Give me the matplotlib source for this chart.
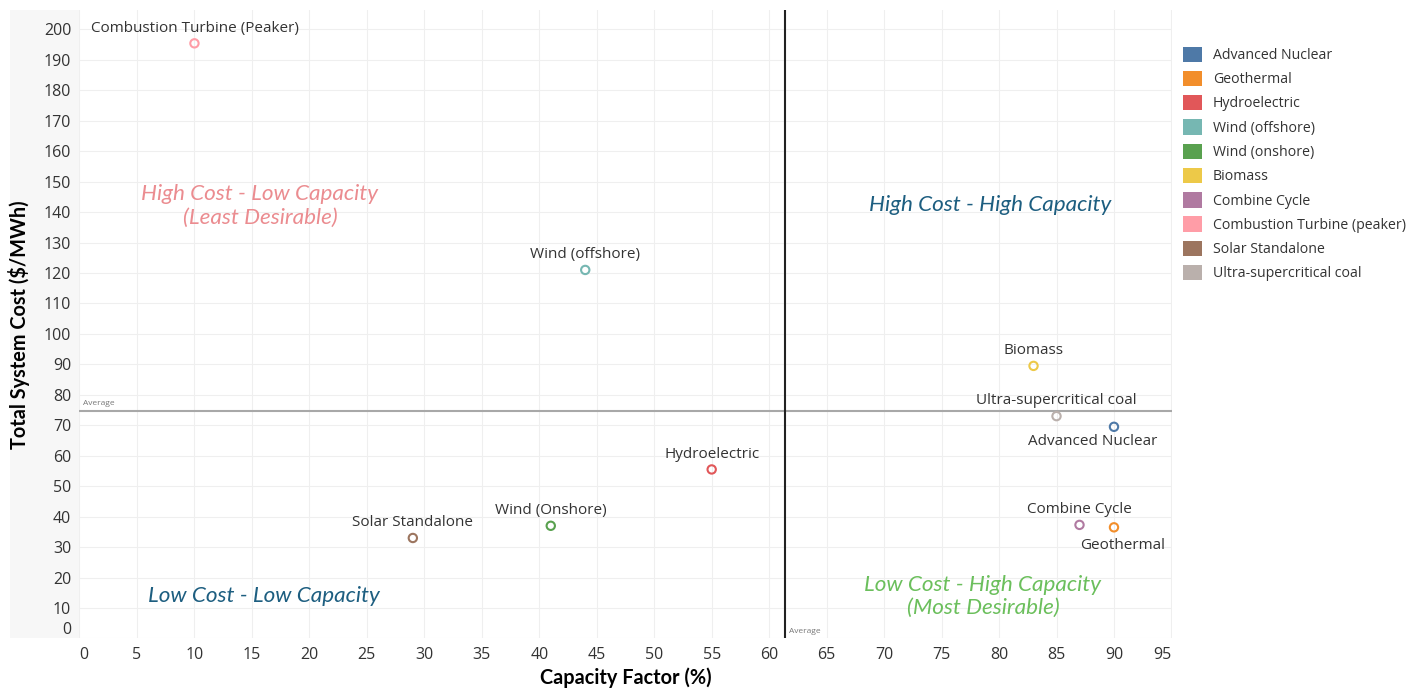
import matplotlib.pyplot as plt
from matplotlib.patches import Patch, Rectangle
import numpy as np

plt.rcParams['font.family'] = ['Open Sans', 'DejaVu Sans']

# technology data: capacity factor (%) and total system cost ($/MWh)
techs = ['Advanced Nuclear', 'Geothermal', 'Hydroelectric', 'Wind (offshore)',
         'Wind (onshore)', 'Biomass', 'Combine Cycle',
         'Combustion Turbine (peaker)', 'Solar Standalone', 'Ultra-supercritical coal']
point_labels = ['Advanced Nuclear', 'Geothermal', 'Hydroelectric', 'Wind (offshore)',
                'Wind (Onshore)', 'Biomass', 'Combine Cycle',
                'Combustion Turbine (Peaker)', 'Solar Standalone', 'Ultra-supercritical coal']
capacity = [90, 90, 55, 44, 41, 83, 87, 10, 29, 85]
cost = [69.5, 36.5, 55.5, 121, 37, 89.5, 37.3, 195.4, 33, 73]
colors = ['#4E79A7', '#F28E2B', '#E15759', '#76B7B2', '#59A14F',
          '#EDC948', '#B07AA1', '#FF9DA7', '#9C755F', '#BAB0AC']

x_ticks = np.arange(0, 96, 5)
y_ticks = np.arange(0, 201, 10)

fig = plt.figure(figsize=(14.07, 6.89), dpi=100)
ax = fig.add_axes([0.0565, 0.0733, 0.7765, 0.912])

# light panel behind the y tick labels
fig.patches.append(Rectangle((10 / 1407, 0.0733), 70 / 1407, 0.912,
                             transform=fig.transFigure, facecolor='#F7F7F7',
                             edgecolor='none', zorder=-1))

ax.set_xlim(0, 95.05)
ax.set_ylim(0, 206.3)
ax.set_xticks(x_ticks)
ax.set_yticks(y_ticks)
ax.set_xticklabels([str(v) for v in x_ticks])
ax.set_yticklabels([str(v) for v in y_ticks])
ax.tick_params(length=0, labelsize=11.5, labelcolor='#333333')
ax.tick_params(axis='x', pad=6)
ax.tick_params(axis='y', pad=6)
# keep edge labels inside the axis span
ax.get_yticklabels()[0].set_va('bottom')
ax.get_xticklabels()[0].set_ha('left')
ax.get_xticklabels()[-1].set_ha('right')
for s in ax.spines.values():
    s.set_visible(False)
ax.grid(True, color='#EFEFEF', linewidth=0.8)
ax.set_axisbelow(True)

ax.set_xlabel('Capacity Factor (%)', fontsize=14.3, fontweight='bold',
              family=['Lato', 'DejaVu Sans'], labelpad=3)
ax.set_ylabel('Total System Cost ($/MWh)', fontsize=14.3, fontweight='bold',
              family=['Lato', 'DejaVu Sans'], labelpad=10)

# average reference lines
avg_x = np.mean(capacity)
avg_y = np.mean(cost)
ax.axhline(avg_y, color='#A8A8A8', linewidth=1.5, zorder=2)
ax.axvline(avg_x, color='#222222', linewidth=1.5, zorder=2)
ax.text(0.3, avg_y + 1.2, 'Average', fontsize=6, color='#777777', va='bottom')
ax.text(avg_x + 0.3, 1.0, 'Average', fontsize=6, color='#777777', va='bottom')

ax.scatter(capacity, cost, s=36, facecolors='none', edgecolors=colors,
           linewidths=1.5, zorder=3)

# point labels: (dx, dy) offsets in points
offsets = {
    'Advanced Nuclear': (-15, -10.5),
    'Geothermal': (6.5, -13),
}
for lab, x, y in zip(point_labels, capacity, cost):
    dx, dy = offsets.get(lab, (0, 11))
    ax.annotate(lab, (x, y), xytext=(dx, dy), textcoords='offset points',
                ha='center', va='center', fontsize=11, color='#333333')

# quadrant captions
qfont = ['Lato', 'DejaVu Sans']
ax.text(15.7, 142, 'High Cost - Low Capacity\n(Least Desirable)', ha='center',
        va='center', fontsize=16.2, style='italic', color='#EB8C90',
        family=qfont, linespacing=1.2)
ax.text(79.2, 142.3, 'High Cost - High Capacity', ha='center', va='center',
        fontsize=16.2, style='italic', color='#1D5E80', family=qfont)
ax.text(16.0, 14, 'Low Cost - Low Capacity', ha='center', va='center',
        fontsize=16.2, style='italic', color='#1D5E80', family=qfont)
ax.text(78.6, 13.8, 'Low Cost - High Capacity\n(Most Desirable)', ha='center',
        va='center', fontsize=16.2, style='italic', color='#6BBF5C',
        family=qfont, linespacing=1.2)

handles = [Patch(facecolor=c, edgecolor='none') for c in colors]
fig.legend(handles, techs, loc='upper left', bbox_to_anchor=(0.832, 0.951),
           frameon=False, fontsize=10.2, handlelength=1.3, handleheight=1.3,
           labelspacing=0.55, handletextpad=0.8, labelcolor='#333333')

fig.savefig('out.png', dpi=100, facecolor='white')
